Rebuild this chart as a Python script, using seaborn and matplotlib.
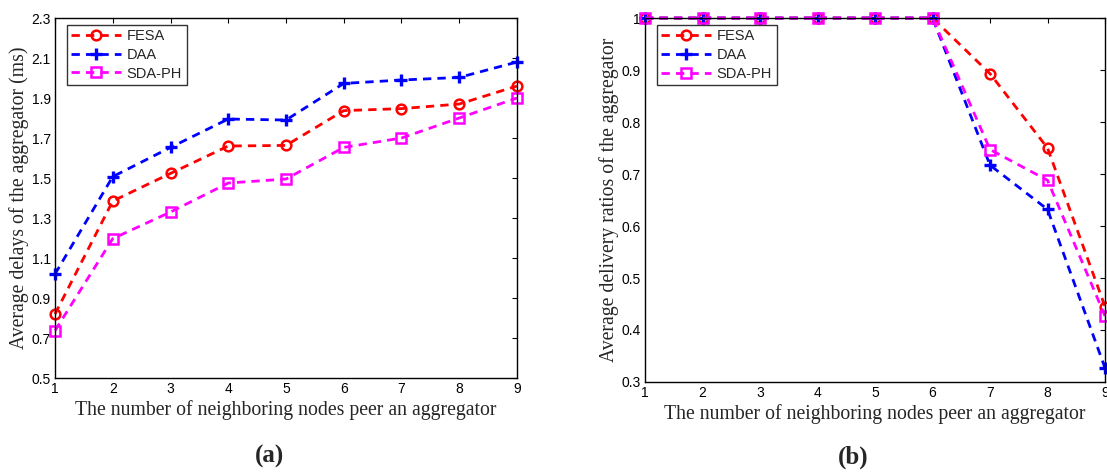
"""
    Recria os dois graficos (a) atraso medio e (b) taxa de entrega
    em funcao do numero de nos vizinhos por agregador.
"""

import pandas as pd
from matplotlib import pyplot as plt
import seaborn as sns

NODES = [1, 2, 3, 4, 5, 6, 7, 8, 9]
SERIES = ['FESA', 'DAA', 'SDA-PH']

# (a) atraso medio do agregador (ms)
DELAY_FESA = [0.82, 1.385, 1.523, 1.66, 1.663, 1.837, 1.847, 1.87, 1.96]
DELAY_DAA = [1.02, 1.507, 1.653, 1.795, 1.79, 1.973, 1.99, 2.003, 2.08]
DELAY_SDAPH = [0.737, 1.197, 1.33, 1.475, 1.495, 1.653, 1.70, 1.80, 1.90]

# (b) taxa media de entrega do agregador
RATIO_FESA = [1, 1, 1, 1, 1, 1, 0.893, 0.75, 0.445]
RATIO_DAA = [1, 1, 1, 1, 1, 1, 0.717, 0.632, 0.327]
RATIO_SDAPH = [1, 1, 1, 1, 1, 1, 0.747, 0.688, 0.427]

DELAY_TICKS = [0.5, 0.7, 0.9, 1.1, 1.3, 1.5, 1.7, 1.9, 2.1, 2.3]
RATIO_TICKS = [0.3, 0.4, 0.5, 0.6, 0.7, 0.8, 0.9, 1.0]
RATIO_TICK_LABELS = ['0.3', '0.4', '0.5', '0.6', '0.7', '0.8', '0.9', '1']

XLABEL = 'The number of neighboring nodes peer an aggregator'

STYLES = {
    'FESA': dict(color='#ff0000', marker='o', ms=7, mew=1.8),
    'DAA': dict(color='#0000ff', marker='+', ms=9, mew=2.4),
    'SDA-PH': dict(color='#ff00ff', marker='s', ms=7, mew=1.8),
}

sns.set_style('white')
plt.rcParams['font.family'] = ['Liberation Sans', 'DejaVu Sans']
plt.rcParams['xtick.direction'] = 'in'
plt.rcParams['ytick.direction'] = 'in'
plt.rcParams['xtick.top'] = True
plt.rcParams['ytick.right'] = True
plt.rcParams['xtick.major.size'] = 3.5
plt.rcParams['ytick.major.size'] = 3.5
plt.rcParams['axes.linewidth'] = 1.0

SERIF = ['Liberation Serif', 'DejaVu Serif']


def draw_panel(ax, values, yticks, ylabel, ylim, yticklabels=None):
    """ Desenha um painel com as tres curvas """
    df = pd.DataFrame({'x': NODES * 3,
                       'y': sum(values, []),
                       'alg': [s for s in SERIES for _ in NODES]})
    for name in SERIES:
        st = STYLES[name]
        sub = df[df['alg'] == name]
        sns.lineplot(data=sub, x='x', y='y', ax=ax, label=name,
                     color=st['color'], marker=st['marker'],
                     markersize=st['ms'],
                     markerfacecolor='none', markeredgecolor=st['color'],
                     markeredgewidth=st['mew'], linewidth=2,
                     linestyle=(0, (3, 2.2)), clip_on=False)

    ax.set_xlim(1, 9)
    ax.set_ylim(*ylim)
    ax.set_xticks(NODES)
    ax.set_yticks(yticks)
    if yticklabels is not None:
        ax.set_yticklabels(yticklabels)
    ax.tick_params(labelsize=10, width=0.8, colors='black', pad=3)
    for spine in ax.spines.values():
        spine.set_color('black')

    ax.set_xlabel(XLABEL, fontsize=14.2, family=SERIF)
    ax.set_ylabel(ylabel, fontsize=14.2, family=SERIF, labelpad=2)
    ax.xaxis.set_label_coords(0.5, -0.062)

    leg = ax.legend(loc='upper left', bbox_to_anchor=(0.026, 0.981),
                    fontsize=10.5, frameon=True, fancybox=False,
                    handlelength=3.4, borderpad=0.3, labelspacing=0.32,
                    handletextpad=0.4, borderaxespad=0)
    leg.get_frame().set_edgecolor('black')
    leg.get_frame().set_linewidth(1.0)


fig = plt.figure(figsize=(11.07, 4.73), dpi=100)
ax_a = fig.add_axes([0.0497, 0.2008, 0.4173, 0.7611])
ax_b = fig.add_axes([0.5827, 0.1924, 0.4155, 0.7695])

draw_panel(ax_a, [DELAY_FESA, DELAY_DAA, DELAY_SDAPH], DELAY_TICKS,
           'Average delays of the aggregator (ms)', (0.5, 2.3))
draw_panel(ax_b, [RATIO_FESA, RATIO_DAA, RATIO_SDAPH], RATIO_TICKS,
           'Average delivery ratios of the aggregator', (0.3, 1.0),
           RATIO_TICK_LABELS)

fig.text(0.243, 0.034, '(a)', fontsize=18, fontweight='bold', family=SERIF,
         ha='center', va='center')
fig.text(0.771, 0.034, '(b)', fontsize=18, fontweight='bold', family=SERIF,
         ha='center', va='center')

fig.savefig('out.png', dpi=100)
